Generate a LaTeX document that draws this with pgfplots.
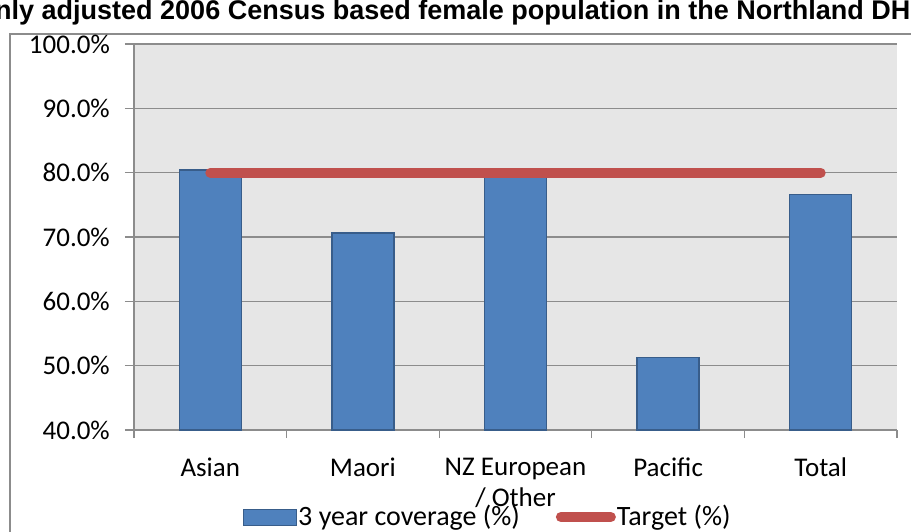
\documentclass[border=0pt]{standalone}
\usepackage{pgfplots}
\pgfplotsset{compat=1.18}
\usepackage{fontspec}
\setmainfont{Carlito}
\newfontfamily\titlefont{Liberation Sans}
\definecolor{barblue}{HTML}{4F81BD}
\definecolor{baredge}{HTML}{385D8A}
\definecolor{tgtred}{HTML}{C0504D}
\definecolor{gridgray}{HTML}{8C8C8C}
\definecolor{plotbg}{HTML}{E6E6E6}
\begin{document}
\begin{tikzpicture}[x=1pt,y=1pt]
\fontsize{27pt}{31pt}\selectfont
% outer chart frame (cropped)
\draw[color=gridgray, line width=1.5pt] (10,-30) -- (10,497) -- (940,497);
\node[anchor=base west, inner sep=0pt, font=\titlefont\bfseries\fontsize{27pt}{31pt}\selectfont] at (-5,511) {nly adjusted 2006 Census based female population in the Northland DHB};
\begin{axis}[
  at={(134pt,101pt)}, anchor=south west,
  scale only axis, width=763pt, height=386pt,
  xmin=-0.5, xmax=4.5, ymin=40, ymax=100,
  axis line style={draw=gridgray, line width=1.3pt},
  separate axis lines,
  axis x line*=bottom, axis y line*=left,
  axis background/.style={fill=plotbg},
  xtick={0,1,2,3,4},
  xticklabels={Asian, Maori, {NZ European\\/ Other}, Pacific, Total},
  minor xtick={-0.5,0.5,1.5,2.5,3.5,4.5},
  major x tick style={draw=none},
  minor tick length=8pt,
  major tick length=9pt,
  tick align=outside,
  tick style={draw=gridgray, line width=1.3pt},
  x tick label style={align=center, anchor=north, yshift=-10pt, font=\fontsize{27pt}{31pt}\selectfont},
  ytick={40,50,60,70,80,90,100},
  yticklabels={40.0\%,50.0\%,60.0\%,70.0\%,80.0\%,90.0\%,100.0\%},
  y tick label style={font=\fontsize{27pt}{31pt}\selectfont, xshift=-6pt},
  ymajorgrids,
  grid style={draw=gridgray, line width=1.3pt},
  legend columns=2,
  legend style={at={(axis description cs:0.1429,-0.2254)}, anchor=west, draw=none, fill=none,
    inner sep=0pt, font=\fontsize{28pt}{31pt}\selectfont,
    /tikz/every even column/.append style={column sep=35pt},
    nodes={inner sep=1pt}},
  clip=false,
]
\addplot[ybar, bar width=62pt, fill=barblue, draw=baredge, line width=1.3pt,
  legend image code/.code={\draw[fill=barblue, draw=baredge, line width=1pt] (0pt,-8pt) rectangle (53pt,8pt);}]
  coordinates {(0,80.4) (1,70.6) (2,79.5) (3,51.3) (4,76.6)};
\addlegendentry{3 year coverage (\%)}
\addplot[sharp plot, color=tgtred, line width=10pt, line cap=round,
  legend image code/.code={\draw[color=tgtred, line width=10pt, line cap=round] (5pt,0pt) -- (55pt,0pt);}]
  coordinates {(0,80) (1,80) (2,80) (3,80) (4,80)};
\addlegendentry{Target (\%)}
\end{axis}
\pgfresetboundingbox
\path[use as bounding box] (0,0) rectangle (911,531);
\end{tikzpicture}
\end{document}
